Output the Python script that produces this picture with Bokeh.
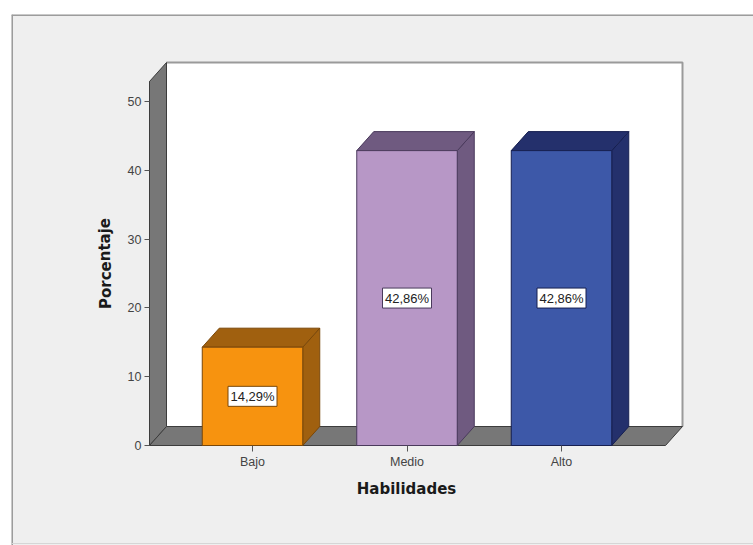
from bokeh.core.properties import value
from bokeh.embed import file_html
from bokeh.models import FixedTicker, LinearAxis, Range1d
from bokeh.plotting import figure
from bokeh.resources import INLINE

categories = ["Bajo", "Medio", "Alto"]
percentages = [14.29, 42.86, 42.86]
value_labels = ["14,29%", "42,86%", "42,86%"]
y_ticks = [0, 10, 20, 30, 40, 50]

front_colors = ["#f7930f", "#b797c6", "#3d58a8"]
shade_colors = ["#a0600f", "#6f5a80", "#24306c"]
edge_colors = ["#7a4708", "#4a3a5c", "#161f50"]

# Pixel layout of the drawing: where the category 0 centre and value 0 sit, and the scales
WIDTH, HEIGHT = 753, 545
PANEL_LEFT, PANEL_TOP = 11, 14
ORIGIN_X, ORIGIN_Y = 252.0, 445.0
PX_PER_CATEGORY, PX_PER_UNIT = 154.5, 6.88

BAR_WIDTH = 100.5 / PX_PER_CATEGORY
DEPTH_X = 17.0 / PX_PER_CATEGORY
DEPTH_Y = 19.0 / PX_PER_UNIT
X_MIN = (149 - ORIGIN_X) / PX_PER_CATEGORY
X_MAX = (665 - ORIGIN_X) / PX_PER_CATEGORY
Y_TOP = (445 - 81) / PX_PER_UNIT


def px_x(px):
    return (px - ORIGIN_X) / PX_PER_CATEGORY


def px_y(px):
    return (ORIGIN_Y - px) / PX_PER_UNIT


p = figure(
    width=WIDTH, height=HEIGHT, output_backend="svg", toolbar_location=None,
    x_range=Range1d(px_x(PANEL_LEFT), px_x(WIDTH)),
    y_range=Range1d(px_y(HEIGHT), px_y(PANEL_TOP)),
    x_axis_location=None, y_axis_location=None,
    min_border_left=PANEL_LEFT, min_border_top=PANEL_TOP,
    min_border_right=0, min_border_bottom=0,
)
p.grid.visible = False
p.outline_line_color = None
p.background_fill_color = "#efefef"
p.border_fill_color = "#ffffff"

# Panel border on the left and top, faint along the bottom
p.line([px_x(PANEL_LEFT + 0.5)] * 2, [px_y(HEIGHT), px_y(PANEL_TOP)], line_color="#9c9c9c", line_width=2)
p.line([px_x(PANEL_LEFT), px_x(WIDTH)], [px_y(PANEL_TOP + 0.5)] * 2, line_color="#9c9c9c", line_width=2)
p.line([px_x(PANEL_LEFT), px_x(WIDTH)], [px_y(543)] * 2, line_color="#d6d6d6", line_width=1)

# Back wall, left wall and floor of the 3D box
back_left, back_right = X_MIN + DEPTH_X, X_MAX + DEPTH_X
back_top = Y_TOP + DEPTH_Y
p.patch([back_left, back_right, back_right, back_left], [DEPTH_Y, DEPTH_Y, back_top, back_top],
        fill_color="#ffffff", line_color=None)
p.line([back_left, back_right, back_right], [back_top, back_top, DEPTH_Y], line_color="#9a9a9a", line_width=2)
p.patch([X_MIN, back_left, back_left, X_MIN], [0, DEPTH_Y, back_top, Y_TOP],
        fill_color="#777777", line_color="#3c3c3c", line_width=1)
p.patch([X_MIN, X_MAX, back_right, back_left], [0, 0, DEPTH_Y, DEPTH_Y],
        fill_color="#777777", line_color="#3c3c3c", line_width=1)

# Bars: side, top and front faces, drawn from the percentages
for i, pct in enumerate(percentages):
    left, right = i - BAR_WIDTH / 2, i + BAR_WIDTH / 2
    p.patch([right, right + DEPTH_X, right + DEPTH_X, right], [0, DEPTH_Y, pct + DEPTH_Y, pct],
            fill_color=shade_colors[i], line_color=edge_colors[i], line_width=1)
    p.patch([left, right, right + DEPTH_X, left + DEPTH_X], [pct, pct, pct + DEPTH_Y, pct + DEPTH_Y],
            fill_color=shade_colors[i], line_color=edge_colors[i], line_width=1)
    p.quad(left=left, right=right, bottom=0, top=pct,
           fill_color=front_colors[i], line_color=edge_colors[i], line_width=1)

# Value labels in white boxes at mid-height of each bar
p.rect(x=list(range(3)), y=[v / 2 for v in percentages],
       width=49 / PX_PER_CATEGORY, height=20 / PX_PER_UNIT,
       fill_color="#ffffff", line_color=edge_colors, line_width=1)
p.text(x=list(range(3)), y=[v / 2 for v in percentages], text=value_labels,
       text_align="center", text_baseline="middle", text_color="#222222",
       text_font=value("Liberation Sans"), text_font_size="13px")

# Axes sit on the front edges of the box
y_axis = LinearAxis(fixed_location=X_MIN, ticker=FixedTicker(ticks=y_ticks), bounds=(0, Y_TOP))
y_axis.axis_line_color = "#3c3c3c"
y_axis.major_tick_line_color = "#555555"
y_axis.major_tick_out = 5
y_axis.major_tick_in = 0
y_axis.minor_tick_line_color = None
y_axis.major_label_standoff = 3
y_axis.major_label_text_font = "Liberation Sans"
y_axis.major_label_text_font_size = "12.5px"
y_axis.major_label_text_color = "#444444"
p.add_layout(y_axis, "left")

x_axis = LinearAxis(fixed_location=0, ticker=FixedTicker(ticks=[0, 1, 2]),
                    major_label_overrides=dict(enumerate(categories)))
x_axis.axis_line_color = None
x_axis.major_tick_line_color = "#555555"
x_axis.major_tick_out = 6
x_axis.major_tick_in = 0
x_axis.minor_tick_line_color = None
x_axis.major_label_standoff = 3
x_axis.major_label_text_font = "Liberation Sans"
x_axis.major_label_text_font_size = "12.5px"
x_axis.major_label_text_color = "#444444"
p.add_layout(x_axis, "below")

# Axis titles
p.text(x=[px_x(406)], y=[px_y(488)], text=["Habilidades"], text_align="center", text_baseline="middle",
       text_color="#1a1a1a", text_font=value("DejaVu Sans"), text_font_style="bold", text_font_size="15px")
p.text(x=[px_x(105)], y=[px_y(263)], text=["Porcentaje"], angle=1.5708, text_align="center",
       text_baseline="middle", text_color="#1a1a1a", text_font=value("DejaVu Sans"),
       text_font_style="bold", text_font_size="15px")

open("out.html", "w").write(file_html(p, INLINE))
